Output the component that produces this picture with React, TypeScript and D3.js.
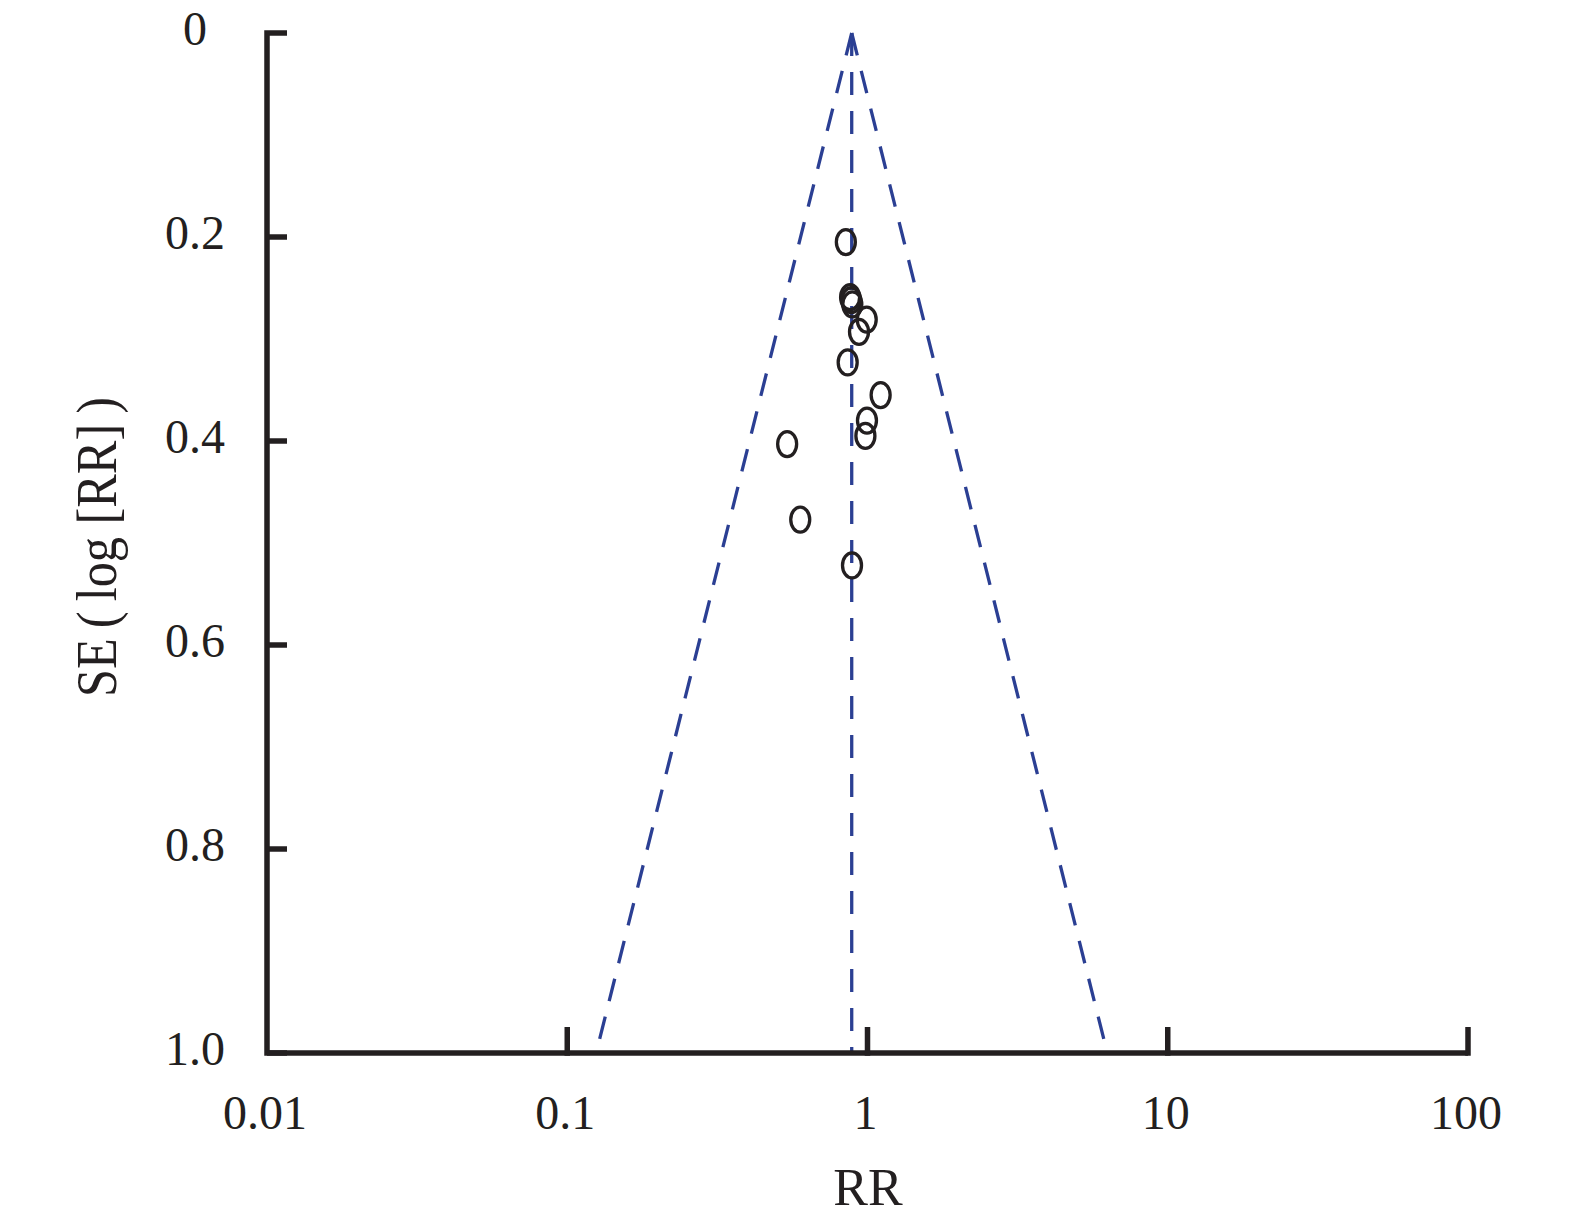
import React from 'react';
import * as d3 from 'd3';

// study estimates
const studyRR = [0.847, 0.875, 0.883, 0.89, 0.994, 0.937, 0.859, 1.106, 0.996, 0.984, 0.54, 0.597, 0.888];
const studySE = [0.205, 0.259, 0.262, 0.266, 0.281, 0.293, 0.323, 0.355, 0.38, 0.395, 0.403, 0.477, 0.522];

const pooledRR = 0.886;
const xTicks = [0.01, 0.1, 1, 10, 100];
const xTickLabels = ['0.01', '0.1', '1', '10', '100'];
const yTicks = [0, 0.2, 0.4, 0.6, 0.8, 1.0];
const yTickLabels = ['0', '0.2', '0.4', '0.6', '0.8', '1.0'];

const INK = '#231f20';
const BLUE = '#2b3f93';
const FONT = '"Liberation Serif", "DejaVu Serif", serif';

const App: React.FC = () => {
  const width = 1575;
  const height = 1225;

  const x = d3.scaleLog().domain([0.01, 100]).range([267, 1468]);
  const y = d3.scaleLinear().domain([0, 1]).range([33, 1053]);

  const x0 = x.range()[0];
  const x1 = x.range()[1];
  const yTop = y(0);
  const yBot = y(1);

  // 95% pseudo-confidence limits of the funnel
  const z = 1.96;
  const seMax = 1.0;
  const funnel = d3.line<[number, number]>()
    .x(d => x(d[0]))
    .y(d => y(d[1]));
  const leftLimit: [number, number][] = [
    [pooledRR, 0],
    [Math.exp(Math.log(pooledRR) - z * seMax), seMax],
  ];
  const rightLimit: [number, number][] = [
    [pooledRR, 0],
    [Math.exp(Math.log(pooledRR) + z * seMax), seMax],
  ];
  const centre: [number, number][] = [
    [pooledRR, 0],
    [pooledRR, seMax],
  ];

  const axisPath = `M${x0 + 20},${yTop} H${x0} V${yBot} H${x1}`;

  return (
    <div style={{ position: 'absolute', left: 0, top: 0 }}>
      <svg width={width} height={height} viewBox={`0 0 ${width} ${height}`} style={{ display: 'block', background: '#fff' }}>
        {/* funnel */}
        {[leftLimit, rightLimit, centre].map((seg, i) => (
          <path
            key={i}
            d={funnel(seg) || ''}
            fill="none"
            stroke={BLUE}
            strokeWidth={3.3}
            strokeDasharray="23,16"
          />
        ))}

        {/* studies */}
        {studyRR.map((rr, i) => (
          <ellipse
            key={i}
            cx={x(rr)}
            cy={y(studySE[i])}
            rx={9.5}
            ry={12.5}
            fill="none"
            stroke={INK}
            strokeWidth={3.3}
          />
        ))}

        {/* axes */}
        <path d={axisPath} fill="none" stroke={INK} strokeWidth={5.5} strokeLinejoin="miter" />
        {yTicks.slice(1).map(t => (
          <line key={t} x1={x0} x2={x0 + 20} y1={y(t)} y2={y(t)} stroke={INK} strokeWidth={5.5} />
        ))}
        {xTicks.slice(1).map(t => (
          <line key={t} x1={x(t)} x2={x(t)} y1={yBot + 2.75} y2={yBot - 26} stroke={INK} strokeWidth={5.5} />
        ))}

        {/* tick labels */}
        <g fontFamily={FONT} fontSize={48} fill={INK}>
          {yTicks.map((t, i) => (
            <text key={t} x={195} y={y(t) + 12} textAnchor="middle">{yTickLabels[i]}</text>
          ))}
          {xTicks.map((t, i) => (
            <text key={t} x={x(t) - 2} y={1129} textAnchor="middle">{xTickLabels[i]}</text>
          ))}
        </g>

        {/* axis titles */}
        <text x={868} y={1205} textAnchor="middle" fontFamily={FONT} fontSize={52} fill={INK}>RR</text>
        <text
          transform="translate(116,547) rotate(-90)"
          textAnchor="middle"
          fontFamily={FONT}
          fontSize={58}
          fill={INK}
          textLength={300}
          lengthAdjust="spacingAndGlyphs"
        >
          SE{'\u2009'}({'\u2009'}log [RR]{'\u2009'})
        </text>
      </svg>
    </div>
  );
};

export default App;
